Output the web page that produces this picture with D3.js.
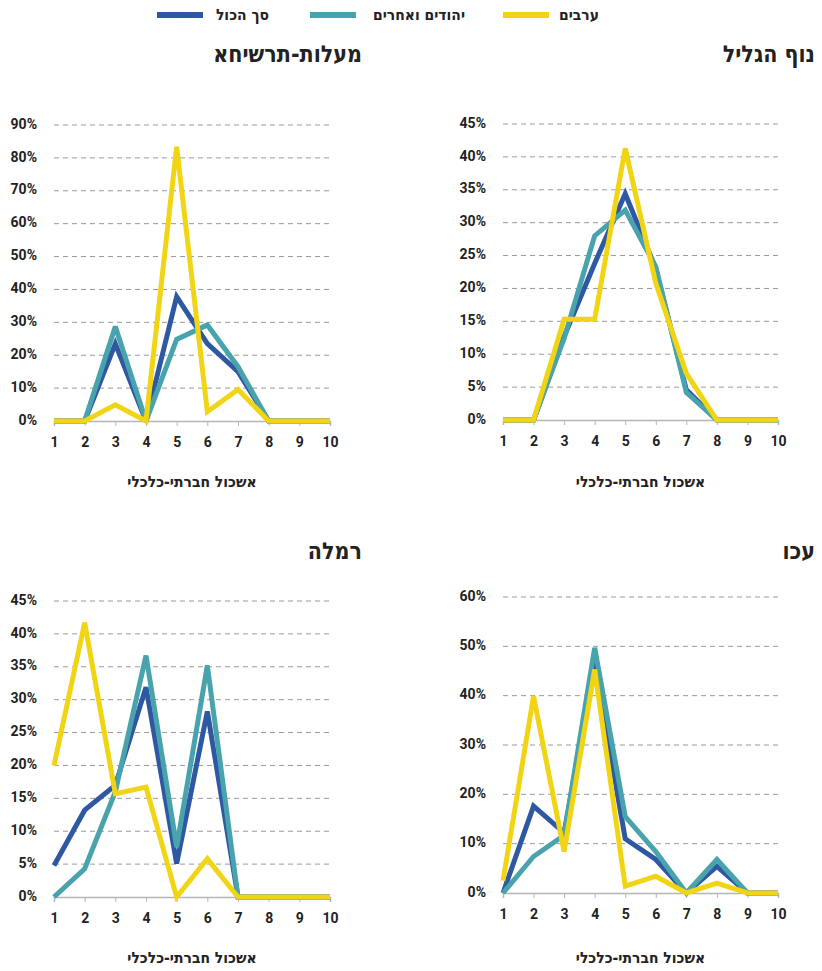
<!DOCTYPE html>
<html><head><meta charset="utf-8">
<script src="https://cdn.jsdelivr.net/npm/d3@7/dist/d3.min.js"></script>
<style>
body{margin:0;background:#fff;}
svg{display:block;}
</style></head>
<body>
<svg id="c" width="822" height="971"></svg>
<script>
const clusters = [1,2,3,4,5,6,7,8,9,10];
const seriesNames = ["סך הכול","יהודים ואחרים","ערבים"];
const seriesColors = ["#2f58a2","#48a3ad","#f1d515"];

// מעלות-תרשיחא
const maalotTotal  = [0,0,23.5,0,37.8,23.5,15,0,0,0];
const maalotJews   = [0,0,28.7,0,24.8,29.2,16.5,0,0,0];
const maalotArabs  = [0,0,4.9,0,83.4,2.8,9.6,0,0,0];
// נוף הגליל
const nofTotal  = [0,0,12.7,23.8,34.4,23,4.6,0,0,0];
const nofJews   = [0,0,12.4,28,31.9,23.3,4.2,0,0,0];
const nofArabs  = [0,0,15.3,15.3,41.3,20.8,7.1,0,0,0];
// רמלה
const ramlaTotal = [4.8,13.2,17,31.9,5.1,28.2,0,0,0,0];
const ramlaJews  = [0,4.3,16,36.7,7.6,35.2,0,0,0,0];
const ramlaArabs = [20,41.7,15.7,16.7,0,5.8,0,0,0,0];
// עכו
const akkoTotal = [0,17.6,12.2,46.6,11,6.8,0,5.4,0,0];
const akkoJews  = [0,7.4,11.7,49.7,15.5,8.4,0,6.8,0,0];
const akkoArabs = [2.5,39.9,8.4,45.3,1.4,3.4,0,2,0,0];

const maalotTicks = [0,10,20,30,40,50,60,70,80,90];
const nofTicks = [0,5,10,15,20,25,30,35,40,45];
const ramlaTicks = [0,5,10,15,20,25,30,35,40,45];
const akkoTicks = [0,10,20,30,40,50,60];

const xTitle = "אשכול חברתי-כלכלי";

const panels = [
  {title:"מעלות-תרשיחא", series:[maalotTotal,maalotJews,maalotArabs], ticks:maalotTicks, x0:54, x1:330, y0:421, y1:125, titleX:362, titleY:55, axisTitleY:482},
  {title:"נוף הגליל", series:[nofTotal,nofJews,nofArabs], ticks:nofTicks, x0:503, x1:778, y0:420, y1:124, titleX:815, titleY:55, axisTitleY:482},
  {title:"רמלה", series:[ramlaTotal,ramlaJews,ramlaArabs], ticks:ramlaTicks, x0:54, x1:330, y0:897, y1:601, titleX:362, titleY:552, axisTitleY:958},
  {title:"עכו", series:[akkoTotal,akkoJews,akkoArabs], ticks:akkoTicks, x0:503, x1:778, y0:893, y1:597, titleX:815, titleY:552, axisTitleY:958}
];

const svg = d3.select("#c");
const hebFont = "'Liberation Sans Narrow','DejaVu Sans Condensed','Noto Sans',sans-serif";
const numFont = "Roboto, 'Noto Sans', sans-serif";

// legend
const legend = [
  {name:seriesNames[0], color:seriesColors[0], sx:157, tx:269},
  {name:seriesNames[1], color:seriesColors[1], sx:310, tx:465},
  {name:seriesNames[2], color:seriesColors[2], sx:503, tx:599}
];
legend.forEach(l=>{
  svg.append("rect").attr("x",l.sx).attr("y",12).attr("width",46).attr("height",6).attr("fill",l.color);
  svg.append("text").attr("x",l.tx).attr("y",15).attr("text-anchor","end").attr("dominant-baseline","middle")
    .attr("font-family",hebFont).attr("font-weight","bold").attr("font-size",15.5).attr("fill","#222").text(l.name);
});

panels.forEach(p=>{
  const x = d3.scaleLinear().domain([1,10]).range([p.x0,p.x1]);
  const yMax = p.ticks[p.ticks.length-1];
  const y = d3.scaleLinear().domain([0,yMax]).range([p.y0,p.y1]);
  const g = svg.append("g");

  // gridlines
  g.selectAll(".grid").data(p.ticks.filter(t=>t>0)).enter().append("line")
    .attr("x1",p.x0).attr("x2",p.x1).attr("y1",d=>y(d)).attr("y2",d=>y(d))
    .attr("stroke","#9a9a9a").attr("stroke-width",1).attr("stroke-dasharray","5,4");

  // y labels
  g.selectAll(".yl").data(p.ticks).enter().append("text")
    .attr("x",p.x0-17).attr("y",d=>y(d)).attr("text-anchor","end").attr("dominant-baseline","middle")
    .attr("font-family",numFont).attr("font-weight","bold").attr("font-size",14).attr("fill","#222")
    .text(d=>d+"%");

  // x axis
  const xa = d3.axisBottom(x).tickValues(clusters).tickSize(5).tickFormat(d3.format("d"));
  const ax = g.append("g").attr("transform",`translate(0,${p.y0})`).call(xa);
  ax.select(".domain").attr("stroke","#b5b5b5").attr("stroke-width",1.5);
  ax.selectAll(".tick line").attr("stroke","#b5b5b5");
  ax.selectAll(".tick text").attr("font-family",numFont).attr("font-weight","bold").attr("font-size",14)
    .attr("fill","#222").attr("dy","1.25em");

  // lines
  const line = d3.line().x((d,i)=>x(clusters[i])).y(d=>y(d));
  p.series.forEach((s,i)=>{
    g.append("path").datum(s).attr("d",line).attr("fill","none")
      .attr("stroke",seriesColors[i]).attr("stroke-width",5).attr("stroke-linejoin","miter").attr("stroke-miterlimit",3);
  });

  // title
  svg.append("text").attr("x",p.titleX).attr("y",p.titleY).attr("text-anchor","end").attr("dominant-baseline","middle")
    .attr("font-family",hebFont).attr("font-weight","bold").attr("font-size",23).attr("fill","#222").text(p.title);
  // axis title
  svg.append("text").attr("x",(p.x0+p.x1)/2).attr("y",p.axisTitleY).attr("text-anchor","middle").attr("dominant-baseline","middle")
    .attr("font-family",hebFont).attr("font-weight","600").attr("font-size",15.5).attr("fill","#222").text(xTitle);
});
</script>
</body></html>
